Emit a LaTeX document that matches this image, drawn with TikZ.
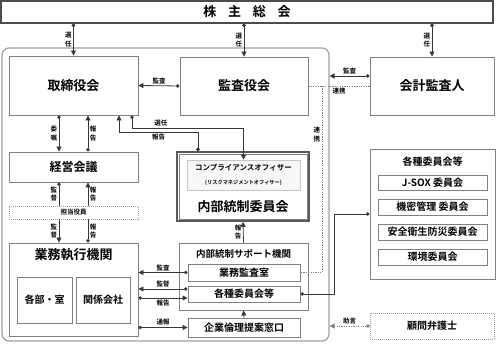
\documentclass[tikz,border=0pt]{standalone}
\usepackage{fontspec}
\setmainfont{Noto Sans CJK JP}[BoldFont={Noto Sans CJK JP Bold}]
\usetikzlibrary{arrows.meta}
\definecolor{frame}{RGB}{128,128,128}
\definecolor{wire}{RGB}{55,55,55}
\tikzset{
  box/.style={draw=frame,line width=0.9pt,fill=white,inner sep=0pt,font=\bfseries\fontsize{13}{15}\selectfont},
  sbox/.style={box,font=\bfseries\fontsize{10}{12}\selectfont},
  dotbox/.style={box,draw=gray!75,line width=0.6pt,dash pattern=on 1pt off 1pt},
  group/.style={draw=gray!75,line width=1.2pt,rounded corners=7pt,inner sep=0pt},
  title/.style={inner sep=0pt,font=\bfseries\fontsize{10}{12}\selectfont},
  link/.style={draw=wire,line width=0.8pt,{Circle[length=3.5pt]}-{Triangle[length=5pt,width=5pt]}},
  feed/.style={draw=wire,line width=0.8pt,-{Triangle[length=5pt,width=5pt]}},
  wire/.style={draw=wire,line width=0.8pt},
  dotlink/.style={draw=gray,line width=0.8pt,dash pattern=on 1.2pt off 1.2pt},
  lbl/.style={inner sep=1.5pt,font=\bfseries\fontsize{6.5}{7}\selectfont},
  vlbl/.style={lbl,align=center,font=\bfseries\fontsize{6.5}{8.5}\selectfont}
}
\begin{document}
\begin{tikzpicture}[x=1pt,y=-1pt]
  \useasboundingbox (0,0) rectangle (496,344);
  % company frame
  \node[group,minimum width=327pt,minimum height=293pt] (grp) at (165.5,194.5) {};
  % boxes
  \node[box,draw=black!70,line width=1.3pt,minimum width=492pt,minimum height=22pt] (gm) at (247,12) {株\hspace{0.9em}主\hspace{0.9em}総\hspace{0.9em}会};
  \node[box,minimum width=129pt,minimum height=59pt] (board) at (73.5,85.5) {取締役会};
  \node[box,minimum width=128pt,minimum height=58pt] (audit) at (244,86) {監査役会};
  \node[box,minimum width=124pt,minimum height=58pt] (acct) at (432,86) {会計監査人};
  \node[box,minimum width=129pt,minimum height=30pt,font=\bfseries\fontsize{12}{14}\selectfont] (mgmt) at (73.5,167) {経営会議};
  \node[dotbox,minimum width=129pt,minimum height=13pt,font=\bfseries\fontsize{6.5}{7}\selectfont] (officer) at (73.5,212.5) {担当役員};
  \node[box,minimum width=129pt,minimum height=93pt] (exec) at (73.5,289.5) {};
  \node[inner sep=0pt,font=\bfseries\fontsize{13}{15}\selectfont] (execT) at (73.5,255) {業務執行機関};
  \node[sbox,minimum width=55pt,minimum height=46pt] (div) at (44.5,300) {各部・室};
  \node[sbox,minimum width=54pt,minimum height=46pt] (subs) at (103,300) {関係会社};
  % internal control committee
  \node[box,draw=black!65,line width=1.8pt,minimum width=132pt,minimum height=69pt] (icc) at (243,186.5) {};
  \draw[frame,line width=0.7pt] ([shift={(2.8pt,-2.8pt)}]icc.north west) rectangle ([shift={(-2.8pt,2.8pt)}]icc.south east);
  \node[box,draw=gray!45,fill=gray!6,line width=0.7pt,minimum width=113pt,minimum height=30pt,align=center] (cco) at (243.5,175)
    {{\fontsize{7.5}{9}\selectfont コンプライアンスオフィサー}\\[-1.5pt]{\fontsize{5.2}{6}\selectfont (リスクマネジメントオフィサー)}};
  \node[inner sep=0pt,font=\bfseries\fontsize{13}{15}\selectfont] (iccT) at (243,207) {内部統制委員会};
  % support bodies
  \node[box,minimum width=129pt,minimum height=67pt] (sup) at (243.5,276.5) {};
  \node[title,font=\bfseries\fontsize{9.5}{11}\selectfont] (supT) at (243.5,254) {内部統制サポート機関};
  \node[sbox,minimum width=112pt,minimum height=17pt] (ia) at (244,272.5) {業務監査室};
  \node[sbox,minimum width=112pt,minimum height=16pt] (cmt) at (244,294) {各種委員会等};
  \node[sbox,minimum width=112pt,minimum height=19pt] (eth) at (244,327.5) {企業倫理提案窓口};
  % committees
  \node[box,minimum width=125pt,minimum height=130pt] (cmts) at (432.5,214) {};
  \node[title] (cmtsT) at (432.5,162) {各種委員会等};
  \node[sbox,minimum width=109pt,minimum height=15pt] (jsox) at (432.5,182.5) {J-SOX 委員会};
  \node[sbox,minimum width=109pt,minimum height=16pt] (sec) at (432.5,207) {機密管理 委員会};
  \node[sbox,minimum width=109pt,minimum height=16pt] (safe) at (432.5,232) {安全衛生防災委員会};
  \node[sbox,minimum width=109pt,minimum height=16pt] (env) at (432.5,257) {環境委員会};
  \node[dotbox,font=\bfseries\fontsize{10}{12}\selectfont,minimum width=124pt,minimum height=26pt] (law) at (432,326) {顧問弁護士};
  % connectors from the shareholders
  \draw[link] (gm.south -| board) -- (board.north) node[midway,left,vlbl] {選\\任};
  \draw[link] (gm.south -| audit) -- (audit.north) node[midway,left,vlbl] {選\\任};
  \draw[link] (gm.south -| acct) -- (acct.north) node[midway,left,vlbl] {選\\任};
  % audits
  \draw[link] (audit.west) -- (board.east) node[midway,above,lbl] {監査};
  \coordinate (acA) at ([yshift=10pt]acct.west);
  \draw[link] (acA) -- (acA -| grp.east) node[midway,above,lbl] {監査};
  \draw[dotlink] (audit.east) -- (acct.west) node[midway,below,lbl] {連携};
  \coordinate (lk) at (322,86);
  \draw[dotlink] (lk) -- (lk |- ia.east) node[pos=0.26,left,vlbl] {連\\携} -- (ia.east);
  % board and management
  \draw[link] ([xshift=-14.5pt]board.south) -- ([xshift=-14.5pt]mgmt.north) node[midway,left,vlbl] {委\\嘱};
  \draw[link] ([xshift=14.5pt]mgmt.north) -- ([xshift=14.5pt]board.south) node[midway,right,vlbl] {報\\告};
  \draw[wire,{Circle[length=3.5pt]}-] ([xshift=-14.5pt]mgmt.south) -- ([xshift=-14.5pt]officer.north) node[midway,left,vlbl] {監\\督};
  \draw[feed] ([xshift=-14.5pt]officer.south) -- ([xshift=-14.5pt]exec.north) node[midway,left,vlbl] {監\\督};
  \draw[feed] ([xshift=14.5pt]officer.north) -- ([xshift=14.5pt]mgmt.south) node[midway,right,vlbl] {報\\告};
  \draw[wire,{Circle[length=3.5pt]}-] ([xshift=14.5pt]exec.north) -- ([xshift=14.5pt]officer.south) node[midway,right,vlbl] {報\\告};
  % board and internal control committee
  \draw[link] ([xshift=58.5pt]board.south) -- ++(0,13) -| node[pos=0.13,above,lbl] {選任} (cco.north);
  \draw[link] ([xshift=-45pt]icc.north) -- ++(0,-19) -| node[pos=0.25,below,lbl] {報告} ([xshift=45.5pt]board.south);
  \draw[feed] (sup.north) -- (icc.south) node[midway,left,vlbl] {報\\告};
  \draw[feed] (eth.north) -- (sup.south);
  % execution and support
  \draw[link] (ia.west) -- (ia.west -| exec.east) node[midway,above,lbl] {監査};
  \coordinate (cmtA) at ([yshift=5pt]cmt.west);
  \coordinate (cmtB) at ([yshift=-4pt]cmt.west);
  \draw[link] (cmtA) -- (cmtA -| exec.east) node[midway,above,lbl] {監督};
  \draw[link] (cmtB -| exec.east) -- (cmtB) node[midway,below,lbl] {報告};
  \draw[link] (eth.west -| exec.east) -- (eth.west) node[midway,above,lbl] {通報};
  \draw[wire,{Circle[length=3.5pt]}-{Circle[length=3.5pt]}] (cmt.east) -- ++(34,0) |- (cmts.west);
  \draw[dotlink,{Circle[length=3.5pt]}-{Triangle[length=5pt,width=5pt]}] (law.west) -- (law.west -| grp.east) node[midway,above,lbl] {助言};
\end{tikzpicture}
\end{document}
